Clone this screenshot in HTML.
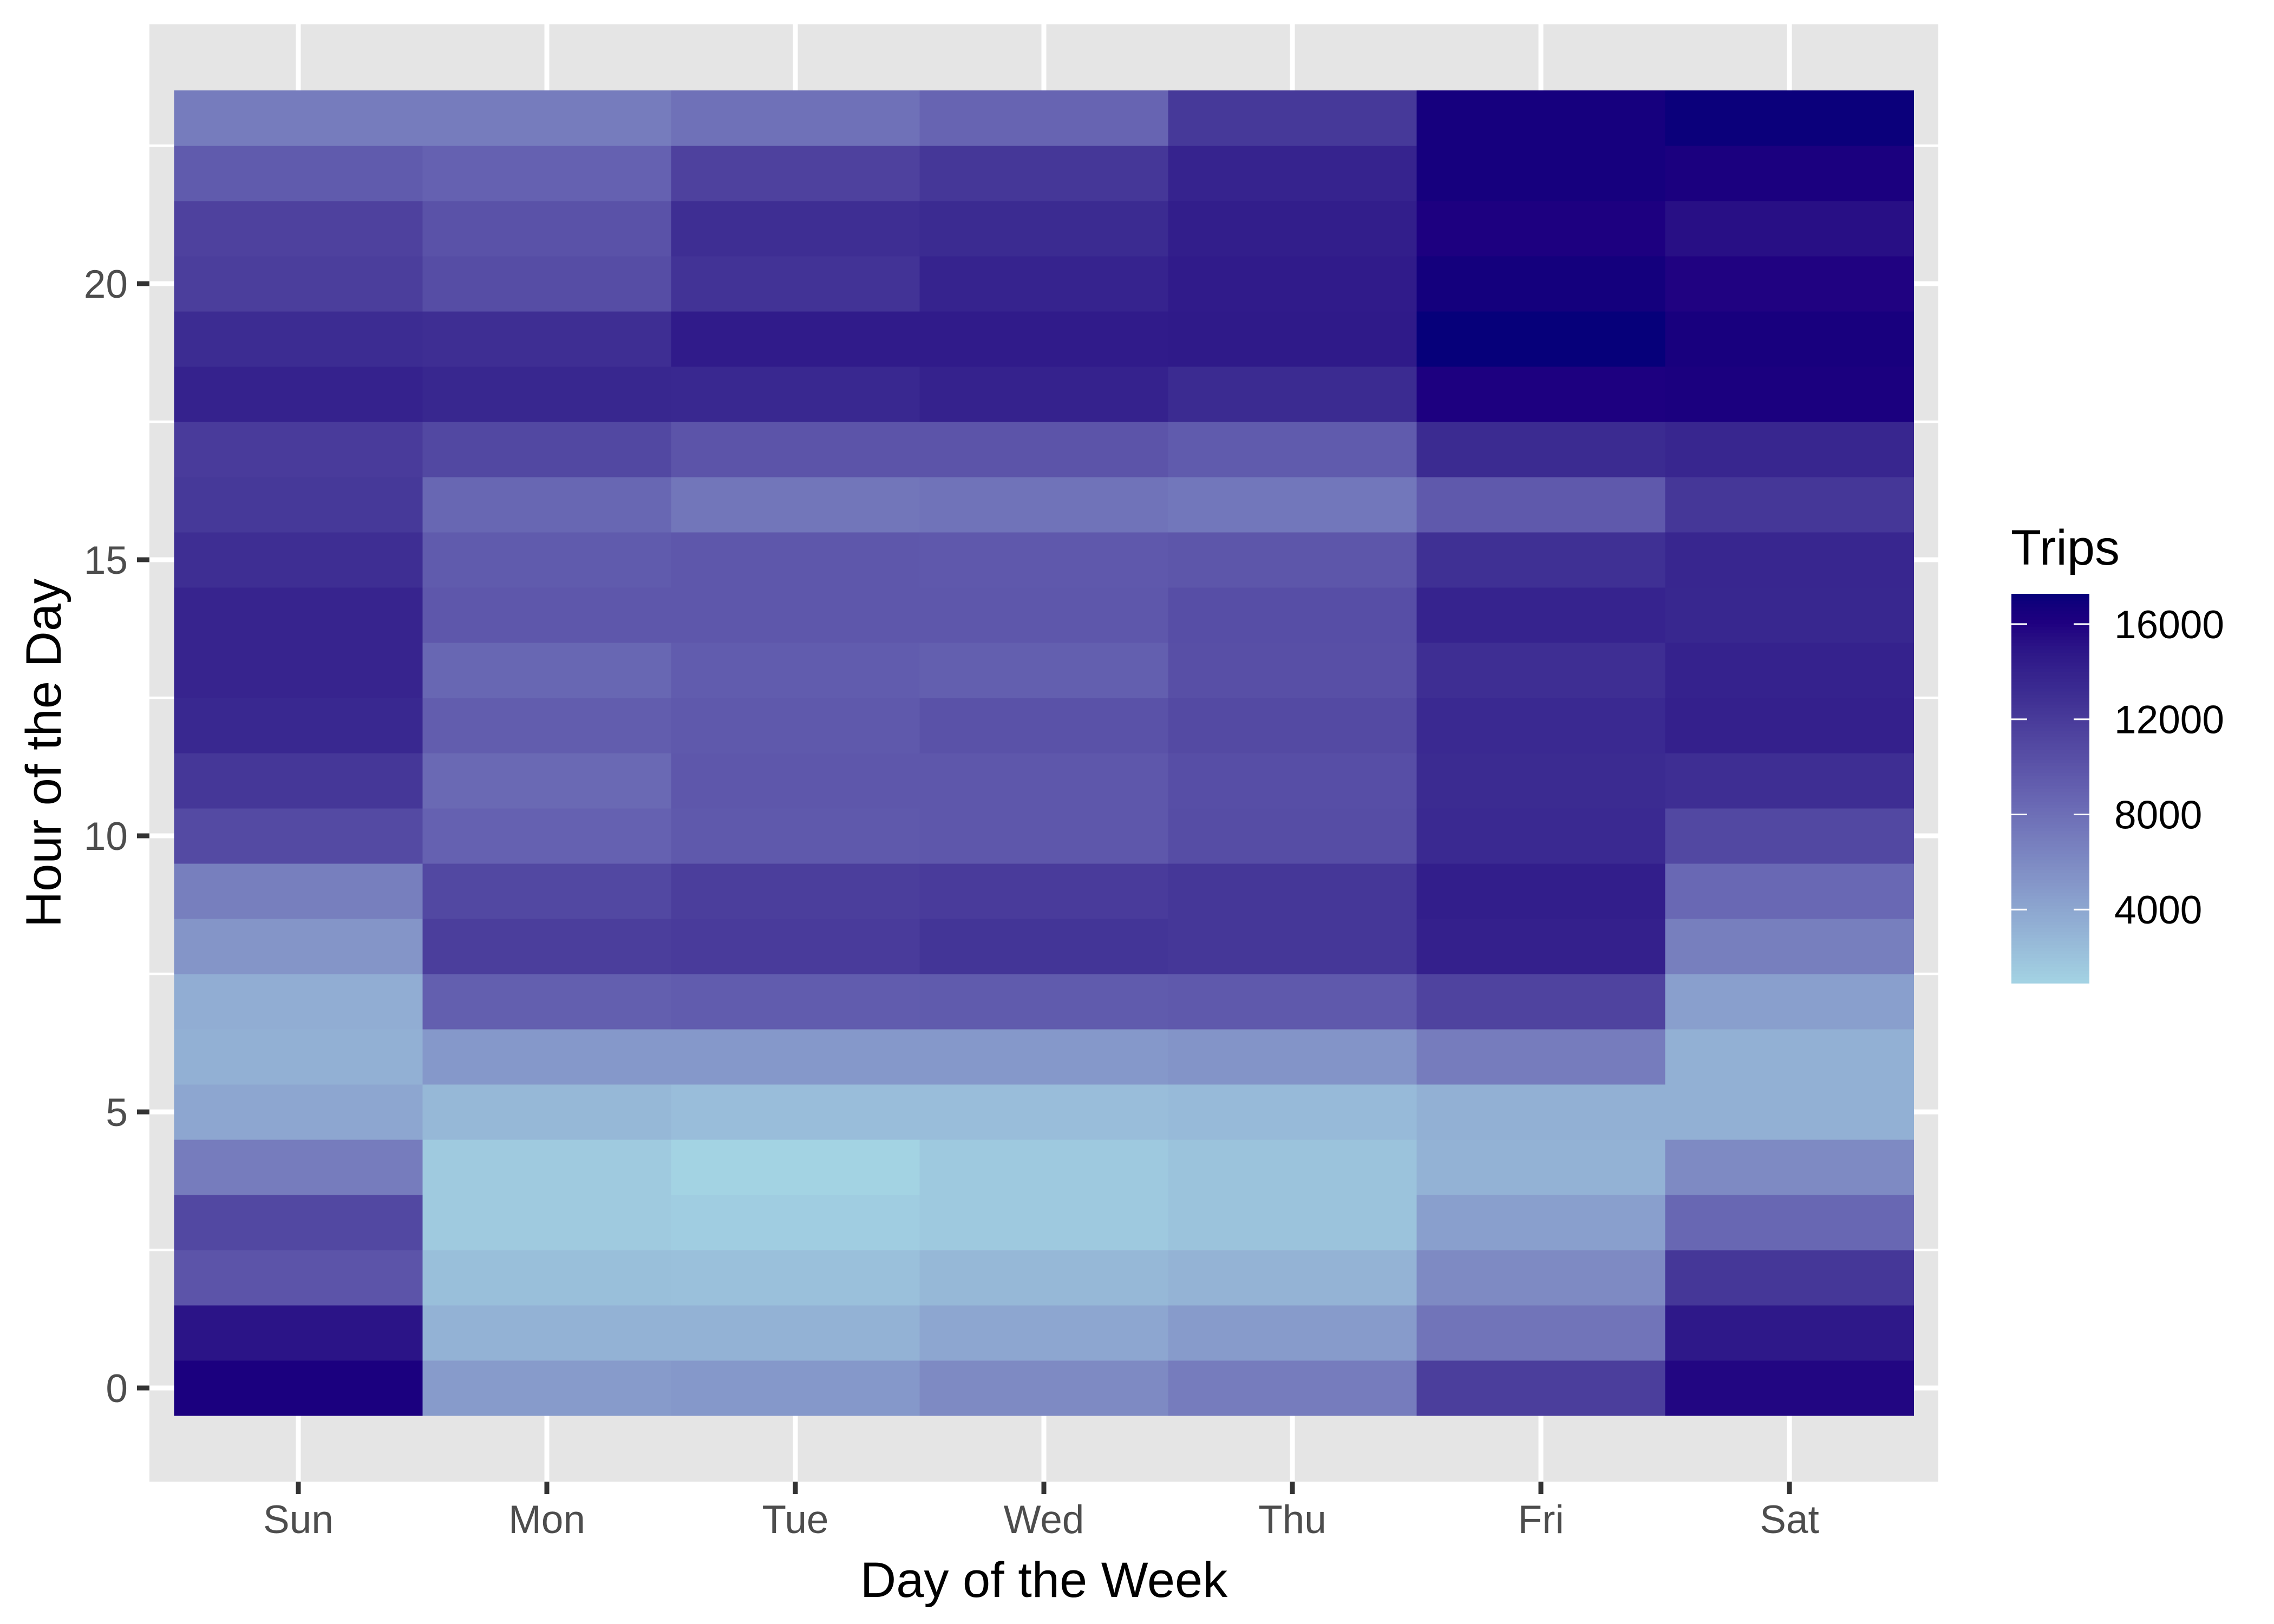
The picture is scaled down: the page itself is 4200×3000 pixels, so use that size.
<!DOCTYPE html>
<html><head><meta charset="utf-8"><style>
html,body{margin:0;padding:0;background:#fff;}
svg{display:block;font-family:"Liberation Sans",Arial,sans-serif;}
</style></head><body>
<svg id="chart" width="4200" height="3000" viewBox="0 0 4200 3000" xmlns="http://www.w3.org/2000/svg">
<rect width="4200" height="3000" fill="#ffffff"/>
<rect x="276" y="45" width="3304" height="2692" fill="#E5E5E5"/>
<g id="grid"></g>
<g id="tiles"></g>
<g id="axes"></g>
<text x="1928" y="2950" font-size="92" text-anchor="middle" fill="#000">Day of the Week</text>
<text x="0" y="0" font-size="92" text-anchor="middle" fill="#000" transform="translate(112,1391) rotate(-90)">Hour of the Day</text>
<g id="legend"></g>
</svg>
<script>
const days = ["Sun","Mon","Tue","Wed","Thu","Fri","Sat"];
const hours = [0,1,2,3,4,5,6,7,8,9,10,11,12,13,14,15,16,17,18,19,20,21,22,23];
// values per day, index = hour 0..23
const sunTrips = [16300,15000,10000,11000,7000,4000,3300,3500,5200,6800,10800,12300,13500,13800,13800,13000,12200,12000,14000,13200,11800,11500,9500,7000];
const monTrips = [4800,3200,2300,1500,1500,2800,5000,9200,11800,11000,9000,8400,9300,8600,9800,9500,8600,11000,13600,13000,10600,10200,9000,7000];
const tueTrips = [5000,3200,2200,1300,910,2400,5000,9400,12000,11800,9600,9800,9600,9400,9800,9800,7500,10000,13500,14500,12600,13000,11500,7800];
const wedTrips = [6000,4000,2800,1600,1600,2400,5000,9500,12500,12000,9800,9800,10200,9200,9800,9700,7700,10000,14000,14500,13900,13300,12300,8800];
const thuTrips = [7000,4800,3100,2000,2000,2600,5300,9600,12300,12300,10600,10500,10800,10400,10500,9900,7400,9500,13300,14600,14500,14300,13900,12200];
const friTrips = [11800,7600,6000,4500,3200,3300,7000,11400,14100,14300,13400,13300,13400,13000,13900,12900,9600,13300,16200,17273,16700,16200,16600,16600];
const satTrips = [15800,14700,12300,8600,6000,3300,3300,4500,6800,8500,11000,13000,14100,14000,13600,13700,12300,13700,16300,16500,16000,15300,16300,17100];
const seriesByDay = [sunTrips,monTrips,tueTrips,wedTrips,thuTrips,friTrips,satTrips];
const yTicks = [0,5,10,15,20];
const legendTicks = [4000,8000,12000,16000];

const NS="http://www.w3.org/2000/svg";
function mk(tag,attrs,parent){const e=document.createElementNS(NS,tag);for(const k in attrs)e.setAttribute(k,attrs[k]);parent.appendChild(e);return e;}

const xCenter0=551, dayStep=459;
function xScale(i){return xCenter0+dayStep*i;}
function yScale(h){return 2564-102*h;}
const cellW=459, cellH=102;

function srgbToLin(c){c/=255;return c<=0.04045?c/12.92:Math.pow((c+0.055)/1.055,2.4);}
function linToSrgb(c){c=Math.max(0,c);c=c<=0.0031308?12.92*c:1.055*Math.pow(c,1/2.4)-0.055;return Math.max(0,Math.min(255,Math.round(c*255)));}
function toLab(hex){const r=srgbToLin(parseInt(hex.substr(1,2),16)),g=srgbToLin(parseInt(hex.substr(3,2),16)),b=srgbToLin(parseInt(hex.substr(5,2),16));
let X=(0.4124*r+0.3576*g+0.1805*b)/0.95047,Y=0.2126*r+0.7152*g+0.0722*b,Z=(0.0193*r+0.1192*g+0.9505*b)/1.08883;
const f=t=>t>0.008856?Math.cbrt(t):7.787*t+16/116;const fx=f(X),fy=f(Y),fz=f(Z);return [116*fy-16,500*(fx-fy),200*(fy-fz)];}
function fromLab(L,a,b){const fy=(L+16)/116,fx=fy+a/500,fz=fy-b/200;const fi=t=>t*t*t>0.008856?t*t*t:(t-16/116)/7.787;
const X=fi(fx)*0.95047,Y=fi(fy),Z=fi(fz)*1.08883;
const r=3.2406*X-1.5372*Y-0.4986*Z,g=-0.9689*X+1.8758*Y+0.0415*Z,bb=0.0557*X-0.2040*Y+1.0570*Z;
return "rgb("+linToSrgb(r)+","+linToSrgb(g)+","+linToSrgb(bb)+")";}
const stopPos=[0,0.5,0.75,0.93,1];
const stopLab=["#A3D3E3","#6460B0","#3C2C92","#1E0080","#06007A"].map(toLab);
const allVals=[].concat(...seriesByDay);
const vMin=Math.min(...allVals), vMax=Math.max(...allVals);
function color(v){const t=Math.max(0,Math.min(1,(v-vMin)/(vMax-vMin)));
 let k=0;while(k<stopPos.length-2&&t>stopPos[k+1])k++;
 const u=(t-stopPos[k])/(stopPos[k+1]-stopPos[k]);const A=stopLab[k],B=stopLab[k+1];
 return fromLab(A[0]+(B[0]-A[0])*u,A[1]+(B[1]-A[1])*u,A[2]+(B[2]-A[2])*u);}

const grid=document.getElementById('grid');
for(let h=-2.5;h<=25;h+=2.5){const y=yScale(h);if(y<45||y>2737)continue;
 const major=(h%5===0);
 const l=mk('line',{x1:276,x2:3580,y1:y,y2:y,stroke:'#fff','stroke-width':major?9:4.5},grid);
 
 }
days.forEach((d,i)=>{const x=xScale(i);const l=mk('line',{x1:x,x2:x,y1:45,y2:2737,stroke:'#fff','stroke-width':9},grid);
 
 });

const tiles=document.getElementById('tiles');
seriesByDay.forEach((arr,i)=>{arr.forEach((v,h)=>{
 const r=mk('rect',{x:xScale(i)-cellW/2,y:yScale(hours[h])-cellH/2,width:cellW+0.5,height:cellH+0.5,fill:color(v)},tiles);
 
 });});

const axes=document.getElementById('axes');
days.forEach((d,i)=>{const x=xScale(i);
 const t=mk('line',{x1:x,x2:x,y1:2737,y2:2760,stroke:'#333','stroke-width':9},axes);
 
 
 const tx=mk('text',{x:x,y:2832,'font-size':73,'text-anchor':'middle',fill:'#4D4D4D'},axes);tx.textContent=d;
 
 });
yTicks.forEach(h=>{const y=yScale(h);
 const t=mk('line',{x1:253,x2:276,y1:y,y2:y,stroke:'#333','stroke-width':9},axes);
 
 
 const tx=mk('text',{x:236,y:y+26,'font-size':73,'text-anchor':'end',fill:'#4D4D4D'},axes);tx.textContent=h;
 
 });

const lg=document.getElementById('legend');
const lt=mk('text',{x:3714,y:1043,'font-size':92,fill:'#000'},lg);lt.textContent='Trips';


const barTop=1097,barBot=1816,barX=3715,barW=144;
function legY(v){return barBot-(v-vMin)/(vMax-vMin)*(barBot-barTop);}
const steps=120;
for(let k=0;k<steps;k++){const v0=vMin+(vMax-vMin)*k/steps,v1=vMin+(vMax-vMin)*(k+1)/steps;
 const r=mk('rect',{x:barX,y:legY(v1),width:barW,height:legY(v0)-legY(v1)+0.8,fill:color((v0+v1)/2)},lg);
 
 }
legendTicks.forEach(v=>{const y=legY(v);
 const a=mk('line',{x1:barX,x2:barX+29,y1:y,y2:y,stroke:'#fff','stroke-width':3},lg);
 
 
 const b=mk('line',{x1:barX+barW-29,x2:barX+barW,y1:y,y2:y,stroke:'#fff','stroke-width':3},lg);
 
 
 const tx=mk('text',{x:3905,y:y+26,'font-size':73,fill:'#000'},lg);tx.textContent=v;
 
 });
</script>
</body></html>
